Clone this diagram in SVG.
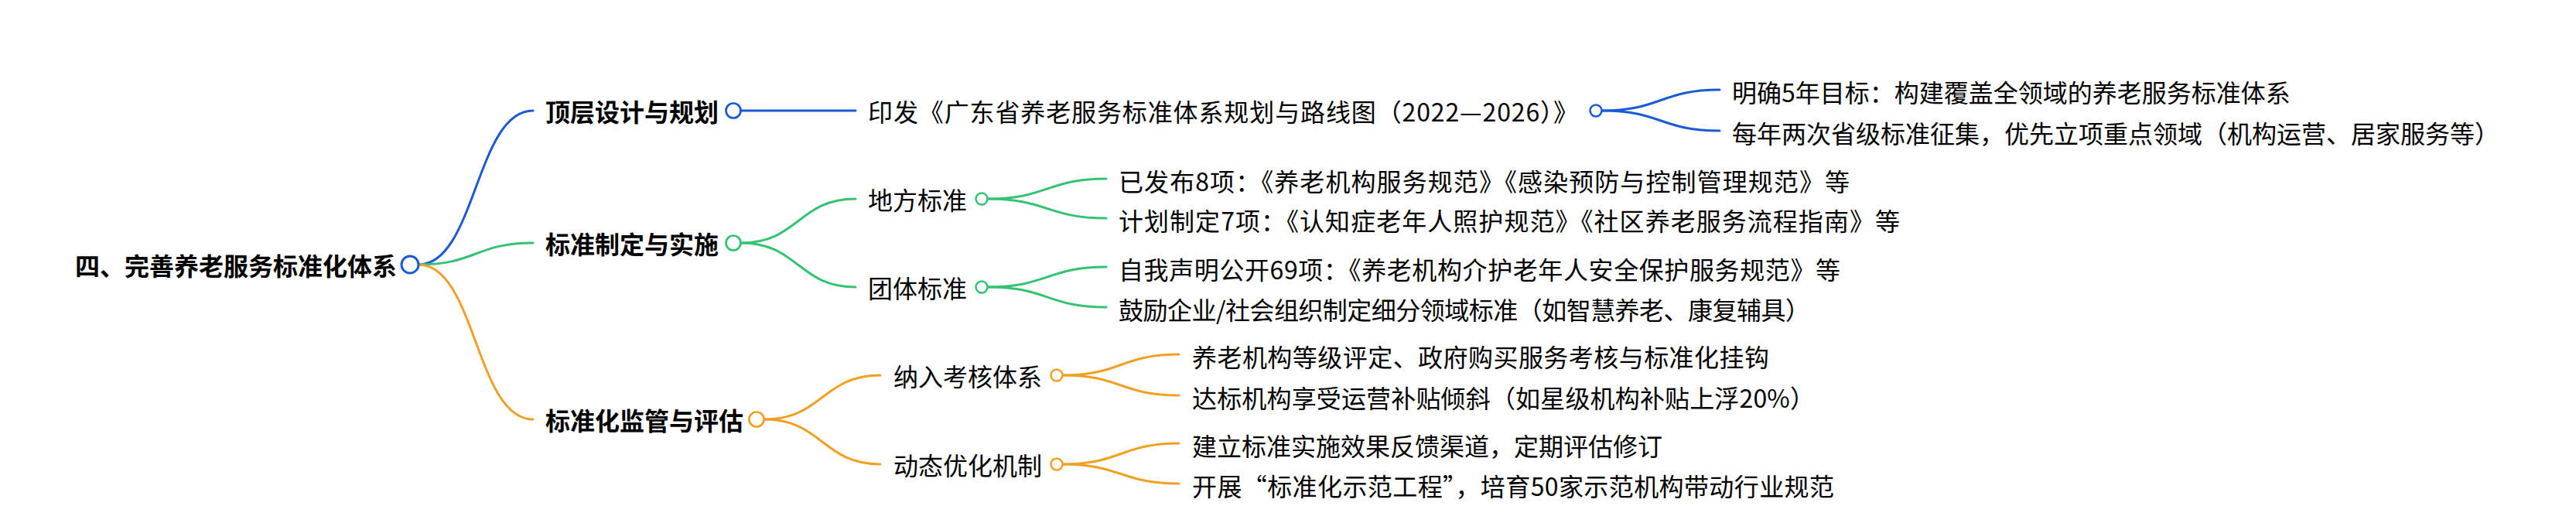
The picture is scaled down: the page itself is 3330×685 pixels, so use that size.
<svg xmlns="http://www.w3.org/2000/svg" width="3330" height="685" viewBox="0 0 3330 685">
<style>
text{font-family:"Noto Sans CJK SC","Noto Sans",sans-serif;font-size:32px;fill:#000;dominant-baseline:central}
.b{font-weight:700}
.c{fill:none;stroke-width:3;stroke-linecap:round}
.blue{stroke:#1b5ad6}
.green{stroke:#36c275}
.orange{stroke:#f0a124}
.dot{fill:#fff}
</style>
<rect width="3330" height="685" fill="#fff"/>
<g id="connectors">
<path class="c blue" d="M541 342 C615 342 615 143 689 143"/>
<path class="c green" d="M541 342 C615 342 615 314 689 314"/>
<path class="c orange" d="M541 342 C615 342 615 542 689 542"/>
<path class="c blue" d="M958 143 L1106 143"/>
<path class="c green" d="M958 314 C1032 314 1032 257 1106 257"/>
<path class="c green" d="M958 314 C1032 314 1032 371 1106 371"/>
<path class="c orange" d="M988 542 C1063 542 1063 485 1138 485"/>
<path class="c orange" d="M988 542 C1063 542 1063 600 1138 600"/>
<path class="c blue" d="M2071 143 C2147 143 2147 116 2223 116"/>
<path class="c blue" d="M2071 143 C2147 143 2147 169 2223 169"/>
<path class="c green" d="M1277 257 C1354 257 1354 231 1430 231"/>
<path class="c green" d="M1277 257 C1354 257 1354 282 1430 282"/>
<path class="c green" d="M1277 371 C1354 371 1354 345 1430 345"/>
<path class="c green" d="M1277 371 C1354 371 1354 397 1430 397"/>
<path class="c orange" d="M1374 485 C1449 485 1449 458 1524 458"/>
<path class="c orange" d="M1374 485 C1449 485 1449 511 1524 511"/>
<path class="c orange" d="M1374 600 C1449 600 1449 573 1524 573"/>
<path class="c orange" d="M1374 600 C1449 600 1449 625 1524 625"/>
</g>
<g id="root">
<text class="b" x="97" y="342">四、完善养老服务标准化体系</text>
<circle class="dot blue" cx="530" cy="342" r="11" stroke-width="3"/>
</g>
<g id="n1">
<text class="b" x="705" y="143">顶层设计与规划</text>
<circle class="dot blue" cx="948" cy="143" r="9.5" stroke-width="2.7"/>
</g>
<g id="n2">
<text class="b" x="705" y="314">标准制定与实施</text>
<circle class="dot green" cx="948" cy="314" r="9.5" stroke-width="2.7"/>
</g>
<g id="n3">
<text class="b" x="705" y="542">标准化监管与评估</text>
<circle class="dot orange" cx="978" cy="542" r="9.5" stroke-width="2.7"/>
</g>
<g id="n1-1">
<text x="1122" y="143" textLength="918" lengthAdjust="spacing">印发《广东省养老服务标准体系规划与路线图（2022—2026）》</text>
<circle class="dot blue" cx="2063" cy="143" r="7.5" stroke-width="2.5"/>
</g>
<g id="n1-1-1"><text x="2239" y="118">明确5年目标：构建覆盖全领域的养老服务标准体系</text></g>
<g id="n1-1-2"><text x="2239" y="171">每年两次省级标准征集，优先立项重点领域（机构运营、居家服务等）</text></g>
<g id="n2-1">
<text x="1122" y="257">地方标准</text>
<circle class="dot green" cx="1269" cy="257" r="7.5" stroke-width="2.5"/>
</g>
<g id="n2-1-1"><text x="1446" y="233" textLength="945" lengthAdjust="spacing">已发布8项：《养老机构服务规范》《感染预防与控制管理规范》等</text></g>
<g id="n2-1-2"><text x="1446" y="284" textLength="1010" lengthAdjust="spacing">计划制定7项：《认知症老年人照护规范》《社区养老服务流程指南》等</text></g>
<g id="n2-2">
<text x="1122" y="371">团体标准</text>
<circle class="dot green" cx="1269" cy="371" r="7.5" stroke-width="2.5"/>
</g>
<g id="n2-2-1"><text x="1446" y="347" textLength="933" lengthAdjust="spacing">自我声明公开69项：《养老机构介护老年人安全保护服务规范》等</text></g>
<g id="n2-2-2"><text x="1446" y="399" textLength="894" lengthAdjust="spacing">鼓励企业/社会组织制定细分领域标准（如智慧养老、康复辅具）</text></g>
<g id="n3-1">
<text x="1155" y="485">纳入考核体系</text>
<circle class="dot orange" cx="1366" cy="485" r="7.5" stroke-width="2.5"/>
</g>
<g id="n3-1-1"><text x="1541" y="460" textLength="746" lengthAdjust="spacing">养老机构等级评定、政府购买服务考核与标准化挂钩</text></g>
<g id="n3-1-2"><text x="1541" y="513" textLength="805" lengthAdjust="spacing">达标机构享受运营补贴倾斜（如星级机构补贴上浮20%）</text></g>
<g id="n3-2">
<text x="1155" y="600">动态优化机制</text>
<circle class="dot orange" cx="1366" cy="600" r="7.5" stroke-width="2.5"/>
</g>
<g id="n3-2-1"><text x="1541" y="575">建立标准实施效果反馈渠道，定期评估修订</text></g>
<g id="n3-2-2"><text x="1541" y="627" textLength="830" lengthAdjust="spacing">开展“标准化示范工程”，培育50家示范机构带动行业规范</text></g>
</svg>
